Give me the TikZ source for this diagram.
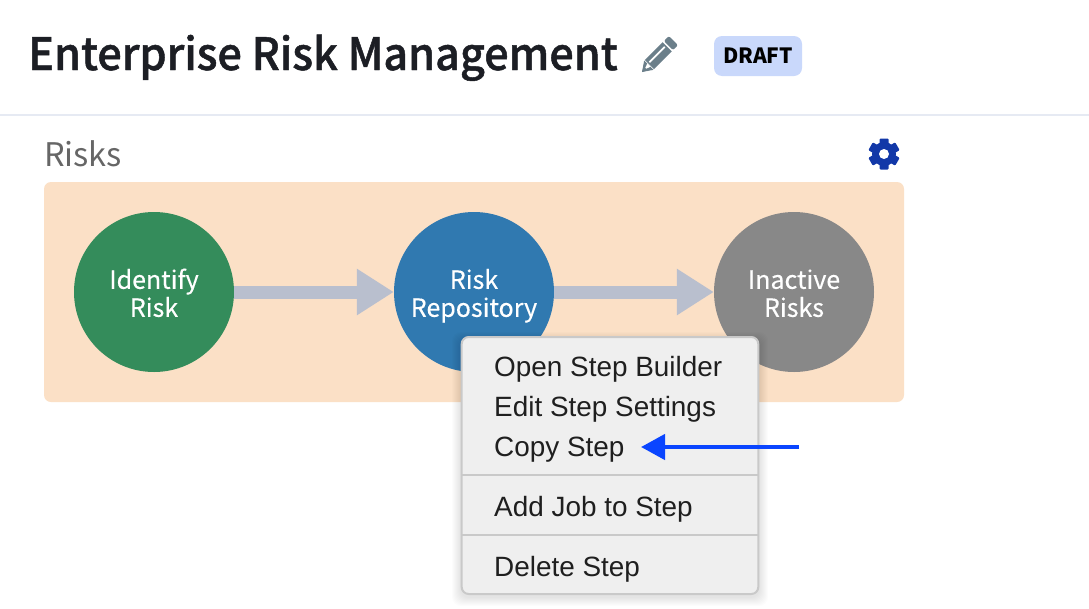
\documentclass[tikz,border=0pt]{standalone}
\usepackage{fontspec}
\setmainfont{Noto Sans CJK JP}
\newfontfamily\titlefont[FakeStretch=0.97, FakeBold=1.1]{Noto Sans CJK JP Medium}
\newfontfamily\stepfont[FakeBold=0.3]{Noto Sans CJK JP}
\newfontfamily\menufont{Liberation Sans}
\usetikzlibrary{arrows.meta}
\definecolor{inkdark}{HTML}{1C1E24}
\definecolor{inkgrey}{HTML}{666666}
\definecolor{rulecol}{HTML}{E6EAF3}
\definecolor{badgecol}{HTML}{C9D8FB}
\definecolor{panelcol}{HTML}{FBE0C6}
\definecolor{greencol}{HTML}{348C5B}
\definecolor{bluecol}{HTML}{3079B0}
\definecolor{greycol}{HTML}{888888}
\definecolor{flowcol}{HTML}{B9BFCE}
\definecolor{menucol}{HTML}{EFEFEF}
\definecolor{menuline}{HTML}{C9C9C9}
\definecolor{pencilcol}{HTML}{6B7F8A}
\definecolor{gearcol}{HTML}{1238A8}
\definecolor{pointcol}{HTML}{0A45FF}
\newcommand{\steplabel}[2]{\rule{0pt}{30pt}#1\\#2\strut}
\tikzset{
  stepnode/.style = {circle, minimum size = 160pt, inner sep = 0pt, align = center, text = white, font = \stepfont\fontsize{25}{28}\selectfont},
  flow/.style = {draw = flowcol, line width = 13pt, -{Triangle[length = 37pt, width = 44pt]}},
  menuitem/.style = {anchor = base west, inner sep = 0pt, text = black!88, font = \menufont\fontsize{27.9}{29}\selectfont},
  sepline/.style = {draw = menuline, line width = 2pt}
}
\begin{document}
\begin{tikzpicture}[x = 1pt, y = -1pt]
  \useasboundingbox (0, 0) rectangle (1089, 608);
  \fill [white] (0, 0) rectangle (1089, 608);

  \node [anchor = base west, inner sep = 0pt, text = inkdark, font = \titlefont\fontsize{44.5}{44.5}\selectfont] (title) at (28, 70) {Enterprise Risk Management};
  \begin{scope}[shift = {(642, 72)}, rotate = 45, scale = 0.87]
    \fill [pencilcol] (0, 0) -- (11, -7.5) -- (11, 7.5) -- cycle;
    \fill [pencilcol] (12, -7.5) rectangle (41, 7.5);
    \fill [pencilcol, rounded corners = 2pt] (43, -7.5) rectangle (51, 7.5);
    \fill [white] (14, -3) rectangle (39, -1);
    \fill [white] (4, 0) -- (11, -2.5) -- (11, 2.5) -- cycle;
    \fill [pencilcol] (0, 0) -- (6, -3) -- (6, 3) -- cycle;
  \end{scope}
  \node [fill = badgecol, rounded corners = 8pt, minimum width = 88pt, minimum height = 40pt, inner sep = 0pt, text = black, font = \bfseries\fontsize{21}{21}\selectfont] (badge) at (758, 56) {DRAFT};
  \coordinate (ruleL) at (0, 115);
  \coordinate (ruleR) at (1089, 115);
  \draw [rulecol, line width = 2pt] (ruleL) to (ruleR);

  \node [anchor = base west, inner sep = 0pt, text = inkgrey, font = \fontsize{32.5}{33}\selectfont] (risks) at (44, 166) {Risks};
  \begin{scope}[shift = {(884, 154)}]
    \foreach \ang in {0, 60, ..., 300}
      \fill [gearcol, rotate = \ang, rounded corners = 1pt] (-4.5, -15.5) rectangle (4.5, 0);
    \fill [gearcol] (0, 0) circle (12);
    \fill [white] (0, 0) circle (5);
  \end{scope}

  \fill [panelcol, rounded corners = 7pt] (44, 182) rectangle (904, 402);
  \node [stepnode, fill = greencol] (a) at (154, 292) {\steplabel{Identify}{Risk}};
  \node [stepnode, fill = bluecol] (b) at (474, 292) {\steplabel{Risk}{Repository}};
  \node [stepnode, fill = greycol] (c) at (794, 292) {\steplabel{Inactive}{Risks}};
  \draw [flow] (a) to (b);
  \draw [flow] (b) to (c);

  \foreach \s in {1, ..., 9}
    \fill [black, opacity = 0.012, rounded corners = 9pt] (461 - \s, 337 + 4 - \s) rectangle (759 + \s, 595 + 2 + \s);
  \node [draw = menuline, line width = 2pt, fill = menucol, rounded corners = 7pt, minimum width = 296.6pt, minimum height = 257pt, inner sep = 0pt] (menu) at (610, 465.5) {};
  \node [menuitem] (open) at (494, 376.5) {Open Step Builder};
  \node [menuitem] (edit) at (494, 416.5) {Edit Step Settings};
  \node [menuitem] (copy) at (494, 456.5) {Copy Step};
  \node [menuitem] (add) at (494, 516.5) {Add Job to Step};
  \node [menuitem] (del) at (494, 576.5) {Delete Step};
  \draw [sepline] (menu.west |- 0, 475) to (menu.east |- 0, 475);
  \draw [sepline] (menu.west |- 0, 535) to (menu.east |- 0, 535);

  \coordinate (tail) at (799, 447);
  \coordinate (head) at (641, 447);
  \draw [pointcol, line width = 4.5pt, -{Triangle[length = 24pt, width = 25pt]}] (tail) to (head);
\end{tikzpicture}
\end{document}
